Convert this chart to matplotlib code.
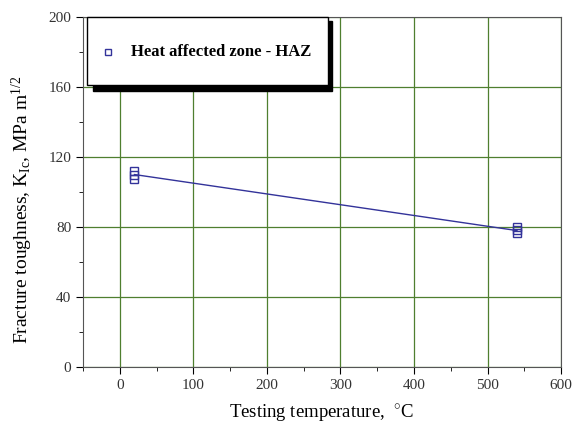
import numpy as np
import matplotlib
matplotlib.use('Agg')
import matplotlib.pyplot as plt
from matplotlib.patches import Rectangle

# Data
temp_pts = [20, 20, 20, 540, 540, 540]
kic_pts = [107.5, 110, 112, 76.5, 78.5, 80]
fit_x = [20, 540]
fit_y = [110, 78]

plt.rcParams['font.family'] = ['Liberation Serif', 'DejaVu Serif']
plt.rcParams['mathtext.fontset'] = 'custom'
plt.rcParams['mathtext.rm'] = 'Liberation Serif'
plt.rcParams['mathtext.it'] = 'Liberation Serif'

fig = plt.figure(figsize=(5.72, 4.34), dpi=100)
ax = fig.add_axes([0.145, 0.154, 0.836, 0.807])

navy = '#33339a'
ax.plot(fit_x, fit_y, color=navy, lw=1, zorder=3)
ax.plot(temp_pts, kic_pts, linestyle='none', marker='s', markersize=6,
        markerfacecolor='none', markeredgecolor=navy, markeredgewidth=1, zorder=4)

ax.set_xlim(-50, 600)
ax.set_ylim(0, 200)
ax.set_xticks(range(0, 601, 100))
ax.set_xticks(range(-50, 601, 100), minor=True)
ax.set_yticks(range(0, 201, 40))
ax.set_yticks(range(20, 201, 40), minor=True)
ax.tick_params(which='major', direction='out', length=5, labelsize=11, labelcolor='#333333')
ax.tick_params(which='minor', direction='out', length=3)

ax.grid(True, which='major', color='#4f7f2f', lw=0.9)
ax.set_axisbelow(True)
for s in ax.spines.values():
    s.set_color('#555555')

ax.set_xlabel(r'Testing temperature,  $^{\circ}$C', fontsize=13.5, labelpad=8)
ax.set_ylabel(r'Fracture toughness, K$_{\mathrm{Ic}}$, MPa m$^{\mathrm{1/2}}$', fontsize=14)
ax.yaxis.set_label_coords(-0.1, 0.45)

# Legend box with shadow
shadow = Rectangle((0.021, 0.789), 0.5, 0.2, transform=ax.transAxes,
                   facecolor='black', edgecolor='black', zorder=5, clip_on=False)
box = Rectangle((0.009, 0.805), 0.504, 0.195, transform=ax.transAxes,
                facecolor='white', edgecolor='black', lw=1, zorder=6, clip_on=False)
ax.add_patch(shadow)
ax.add_patch(box)
ax.plot([0.052], [0.9], transform=ax.transAxes, marker='s', markersize=5,
        markerfacecolor='none', markeredgecolor=navy, zorder=7, clip_on=False)
ax.text(0.1, 0.9, 'Heat affected zone - HAZ', transform=ax.transAxes,
        fontsize=12, fontweight='bold', va='center', ha='left', zorder=7)

fig.savefig('out.png', dpi=100)
